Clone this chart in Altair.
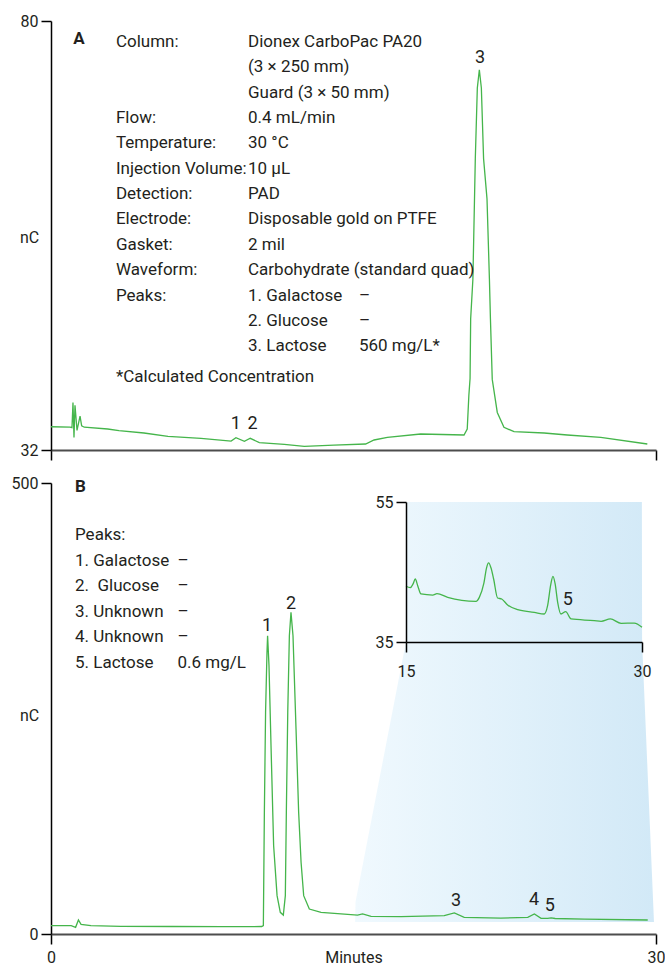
import altair as alt
import pandas as pd

FONT = "Roboto, Liberation Sans, sans-serif"
GREEN = "#45b54b"
INK = "#231f20"

# ---------------- data ----------------
# Panel A chromatogram (minutes, nC)
a_minutes = [0.0, 0.95, 1.04, 1.09, 1.14, 1.19, 1.29, 1.44, 1.52, 1.65, 2.81, 3.37,
             4.61, 5.8, 7.44, 8.93, 9.17, 9.59, 9.88, 10.33, 11.57, 12.56, 14.03,
             15.6, 16.02, 16.68, 18.33, 20.48, 20.64, 20.72, 20.78, 20.81, 20.92,
             21.04, 21.14, 21.24, 21.34, 21.45, 21.62, 21.74, 21.79, 21.88, 22.13,
             22.46, 22.96, 24.45, 25.6, 27.26, 29.57]
a_nc = [34.6, 34.55, 34.5, 37.3, 33.4, 37.0, 34.2, 35.8, 34.7, 34.55, 34.35, 34.16,
        33.9, 33.53, 33.31, 33.0, 33.38, 32.97, 33.31, 32.82, 32.63, 32.41, 32.55,
        32.67, 33.12, 33.42, 33.79, 33.68, 34.35, 38.1, 40.0, 46.7, 51.1,
        64.6, 72.5, 74.55, 72.5, 64.6, 60.1, 51.1, 46.7, 39.9, 36.2,
        34.54, 34.05, 33.9, 33.68, 33.42, 32.67]

# Panel B chromatogram (minutes, nC)
b_minutes = [0.0, 1.0, 1.22, 1.36, 1.49, 1.98, 3.47, 6.0, 8.5, 10.45, 10.53, 10.58,
             10.64, 10.71, 10.74, 10.81, 10.91, 11.04, 11.21, 11.37, 11.52, 11.62,
             11.67, 11.74, 11.82, 11.9, 12.0, 12.15, 12.28, 12.4, 12.53, 12.81,
             13.39, 14.38, 15.2, 15.45, 15.87, 17.36, 19.5, 20.0, 20.49, 22.31,
             23.64, 23.97, 24.3, 24.63, 24.8, 25.0, 26.45, 29.59]
b_nc = [9.2, 9.2, 7.4, 15.5, 10.7, 9.2, 8.5, 8.3, 8.2, 8.3, 9.2, 134.9,
        245.8, 312.3, 330.7, 297.5, 208.8, 97.9, 42.5, 24.0, 21.0, 42.5,
        134.9, 245.8, 330.7, 356.6, 330.7, 227.3, 134.9, 79.5, 42.5, 27.7,
        24.0, 22.2, 21.0, 22.2, 19.6, 19.2, 20.3, 23.3, 18.5, 17.7,
        18.5, 22.2, 17.4, 17.4, 17.9, 17.2, 16.6, 15.5]

# Inset of panel B (15-30 min, 35-55 nC)
i_minutes = [15.0, 15.27, 15.45, 15.59, 15.75, 15.95, 16.7, 16.97, 17.65, 19.45,
             19.66, 19.95, 20.12, 20.25, 20.4, 20.57, 20.82, 21.08, 21.46, 22.1,
             23.15, 23.79, 24.0, 24.2, 24.34, 24.48, 24.64, 24.85, 25.15, 25.49,
             26.97, 27.4, 27.99, 28.67, 29.51, 30.0]
i_nc = [42.96, 42.76, 43.3, 44.0, 43.0, 41.86, 41.71, 41.9, 41.38, 40.81,
        41.38, 43.4, 45.6, 46.29, 45.6, 44.0, 41.29, 41.14, 40.29, 39.62,
        39.24, 39.0, 40.19, 43.2, 44.38, 43.3, 40.67, 39.0, 39.33, 38.29,
        38.05, 37.95, 38.29, 37.67, 37.71, 37.1]

# zoom-region (light blue) outline in panel B units
zoom_minutes = [15.08, 15.1, 17.6, 17.61, 29.3, 29.31, 29.9]
zoom_top = [13.3, 35.5, 323.7, 479.0, 479.0, 323.7, 13.3]
zoom_bottom = 13.3

# Conditions text (panel A)
cond_labels = ["Column:", "", "", "Flow:", "Temperature:", "Injection Volume:",
               "Detection:", "Electrode:", "Gasket:", "Waveform:", "Peaks:", "", ""]
cond_values = ["Dionex CarboPac PA20", "(3 × 250 mm)", "Guard (3 × 50 mm)",
               "0.4 mL/min", "30 °C", "10 µL", "PAD", "Disposable gold on PTFE",
               "2 mil", "Carbohydrate (standard quad)", "1. Galactose", "2. Glucose",
               "3. Lactose"]
cond_amounts = ["", "", "", "", "", "", "", "", "", "", "–", "–", "560 mg/L*"]
footnote = "*Calculated Concentration"

# Peak list (panel B)
b_peak_names = ["Peaks:", "1. Galactose", "2.\u00a0 Glucose", "3. Unknown", "4. Unknown", "5. Lactose"]
b_peak_amounts = ["", "–", "–", "–", "–", "0.6 mg/L"]

# Peak number labels
a_peak_ids = ["1", "2", "3"]
a_peak_min = [9.17, 9.99, 21.27]
a_peak_nc = [34.35, 34.35, 75.3]
b_peak_ids = ["1", "2", "3", "4", "5"]
b_peak_min = [10.71, 11.9, 20.08, 23.95, 24.74]
b_peak_nc = [336.3, 360.3, 31.4, 32.2, 25.8]
i_peak_ids = ["5"]
i_peak_min = [25.28]
i_peak_nc = [40.29]

# ---------------- layout constants ----------------
W, HA, HB = 605, 429, 451
TS = 17  # annotation text size
sx = alt.Scale(domain=[0, 30], nice=False, zero=False)
syA = alt.Scale(domain=[32, 80], nice=False, zero=False)
syB = alt.Scale(domain=[0, 500], nice=False, zero=False)
sxi = alt.Scale(domain=[15, 30], range=[355, 591], nice=False, zero=False)
syi = alt.Scale(domain=[35, 55], range=[159, 19], nice=False, zero=False)

lab = dict(labelFont=FONT, labelFontSize=16, labelColor=INK, grid=False)


def y_axis(vals, ty):
    return alt.Axis(values=vals, title="nC", titleAngle=0, titleX=-22, titleY=ty,
                    titleAlign="center", titleBaseline="middle", titleFont=FONT,
                    titleFontSize=16, titleFontWeight="normal", titleColor=INK,
                    labelPadding=3, tickSize=10, domainColor="#000", tickColor="#000",
                    domainWidth=1.5, tickWidth=1.5, **lab)


xA_axis = alt.Axis(values=[0, 30], labels=False, title=None, tickSize=10,
                   domainColor="#4d4d4d", domainWidth=2, tickColor="#000", tickWidth=1.5, grid=False)
yA_axis = y_axis([32, 80], 216)
xB_axis = alt.Axis(values=[0, 30], title="Minutes", titleY=15, titleBaseline="top", titleFont=FONT,
                   titleFontSize=16, titleFontWeight="normal", titleColor=INK,
                   labelFlush=False, labelPadding=5, tickSize=10, domainColor="#4d4d4d",
                   domainWidth=2, tickColor="#000", tickWidth=1.5, **lab)
yB_axis = y_axis([0, 500], 232)
inset_axis = dict(tickSize=10, domainColor="#000", tickColor="#000", domainWidth=1.5,
                  tickWidth=1.5, title=None, zindex=1, **lab)
xI_axis = alt.Axis(values=[15, 30], orient="bottom", offset=159 - HB, labelFlush=False,
                   labelPadding=11, **inset_axis)
yI_axis = alt.Axis(values=[35, 55], orient="left", offset=-355, labelPadding=3, **inset_axis)


def txt(df, xs, xax, ys, yax, align="left", size=TS, weight="normal"):
    return alt.Chart(df).mark_text(align=align, baseline="alphabetic", font=FONT,
                                   fontSize=size, fontWeight=weight, color=INK).encode(
        x=alt.X("x:Q", scale=xs, axis=xax),
        y=alt.Y("y:Q", scale=ys, axis=yax),
        text="t:N")


# ---------------- panel A ----------------
dfA = pd.DataFrame({"m": a_minutes, "v": a_nc})
lineA = alt.Chart(dfA).mark_line(color=GREEN, strokeWidth=1.3).encode(
    x=alt.X("m:Q", scale=sx, axis=xA_axis),
    y=alt.Y("v:Q", scale=syA, axis=yA_axis))

line_y = [77.09 - 2.8364 * i for i in range(len(cond_labels))]
rows = []
for i in range(len(cond_labels)):
    if cond_labels[i]:
        rows.append({"x": 3.22, "y": line_y[i], "t": cond_labels[i]})
    rows.append({"x": 9.77, "y": line_y[i], "t": cond_values[i]})
    if cond_amounts[i]:
        rows.append({"x": 15.27, "y": line_y[i], "t": cond_amounts[i]})
rows.append({"x": 3.22, "y": 39.66, "t": footnote})
condA = txt(pd.DataFrame(rows), sx, xA_axis, syA, yA_axis)
tagA = txt(pd.DataFrame({"x": [1.39], "y": [77.43], "t": ["A"]}), sx, xA_axis, syA, yA_axis,
           align="center", size=17, weight="bold")
pkA = txt(pd.DataFrame({"x": a_peak_min, "y": a_peak_nc, "t": a_peak_ids}), sx, xA_axis, syA, yA_axis,
          align="center", size=18)

chartA = alt.layer(lineA, condA, tagA, pkA).properties(width=W, height=HA)

# ---------------- panel B ----------------
dfZ = pd.DataFrame({"m": zoom_minutes, "top": zoom_top, "bot": [zoom_bottom] * len(zoom_minutes)})
grad = alt.Gradient(gradient="linear",
                    stops=[alt.GradientStop(color="#f0f9fe", offset=0),
                           alt.GradientStop(color="#d2e9f7", offset=1)],
                    x1=0, x2=1, y1=0, y2=0)
zoomB = alt.Chart(dfZ).mark_area(color=grad, opacity=1).encode(
    x=alt.X("m:Q", scale=sx, axis=xB_axis),
    y=alt.Y("top:Q", scale=syB, axis=yB_axis),
    y2="bot:Q")

dfB = pd.DataFrame({"m": b_minutes, "v": b_nc})
lineB = alt.Chart(dfB).mark_line(color=GREEN, strokeWidth=1.3).encode(
    x=alt.X("m:Q", scale=sx, axis=xB_axis),
    y=alt.Y("v:Q", scale=syB, axis=yB_axis))

pk_y = [436.8 - 28.38 * i for i in range(len(b_peak_names))]
rowsB = []
for i in range(len(b_peak_names)):
    rowsB.append({"x": 1.19, "y": pk_y[i], "t": b_peak_names[i]})
    if b_peak_amounts[i]:
        rowsB.append({"x": 6.27, "y": pk_y[i], "t": b_peak_amounts[i]})
listB = txt(pd.DataFrame(rowsB), sx, xB_axis, syB, yB_axis)
tagB = txt(pd.DataFrame({"x": [1.46], "y": [490.0], "t": ["B"]}), sx, xB_axis, syB, yB_axis,
           align="center", size=17, weight="bold")
pkB = txt(pd.DataFrame({"x": b_peak_min, "y": b_peak_nc, "t": b_peak_ids}), sx, xB_axis, syB, yB_axis,
          align="center", size=18)

mainB = alt.layer(zoomB, lineB, listB, tagB, pkB)

dfI = pd.DataFrame({"m": i_minutes, "v": i_nc})
lineI = alt.Chart(dfI).mark_line(color=GREEN, strokeWidth=1.3, interpolate="monotone").encode(
    x=alt.X("m:Q", scale=sxi, axis=xI_axis),
    y=alt.Y("v:Q", scale=syi, axis=yI_axis))
pkI = txt(pd.DataFrame({"x": i_peak_min, "y": i_peak_nc, "t": i_peak_ids}), sxi, xI_axis, syi, yI_axis,
          align="center", size=18)
insetB = alt.layer(lineI, pkI)

chartB = alt.layer(mainB, insetB).resolve_scale(x="independent", y="independent").properties(width=W, height=HB)

chart = alt.vconcat(chartA, chartB, spacing=14).properties(
    padding={"left": 11, "top": 13, "right": 0, "bottom": 0},
    background="white",
).configure_view(stroke=None)

chart.save("out.html", embed_options={"renderer": "svg", "actions": False})
